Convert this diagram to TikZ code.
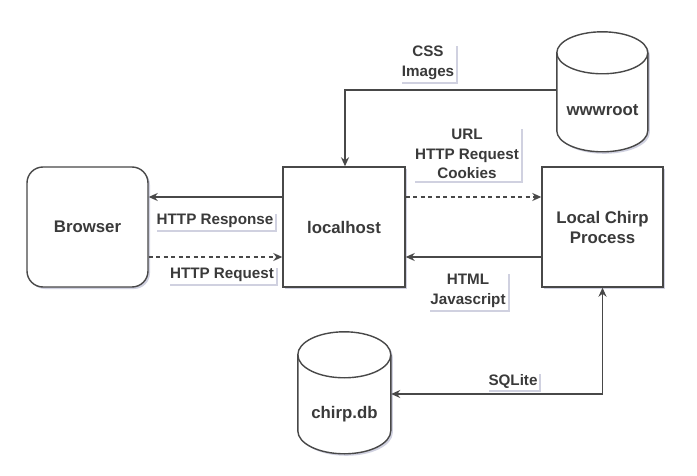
\documentclass[tikz,border=0pt]{standalone}
\usepackage{fontspec}
\setmainfont{Liberation Sans}
\usetikzlibrary{arrows.meta,shadows,calc}
\definecolor{linec}{RGB}{72,72,72}
\definecolor{textc}{RGB}{58,58,58}
\definecolor{shadc}{RGB}{170,172,200}
\begin{document}
\begin{tikzpicture}[x=1pt,y=-1pt,
  every node/.style={text=textc,font=\bfseries},
  box/.style={draw=linec,line width=1.4pt,fill=white,minimum width=121pt,minimum height=120pt,align=center,
    font=\fontsize{16.8}{20}\selectfont\bfseries,
    drop shadow={shadow xshift=2pt,shadow yshift=-2pt,fill=shadc,opacity=.55}},
  cylbox/.style={draw=none,inner sep=0pt},
  cylline/.style={draw=linec,line width=1.4pt,fill=white},
  cyltext/.style={font=\fontsize{16.8}{20}\selectfont\bfseries},
  lbl/.style={fill=white,align=center,inner sep=2pt,font=\fontsize{15.2}{19.5}\selectfont\bfseries,
    drop shadow={shadow xshift=2pt,shadow yshift=-2pt,fill=shadc,opacity=.55}},
  conn/.style={draw=linec,line width=1.4pt,-{Stealth[length=9pt,width=8pt]}},
  dconn/.style={conn,dash pattern=on 4pt off 3.5pt},
]
\useasboundingbox (0,0) rectangle (697,476);
\fill[white] (0,0) rectangle (697,476);

% main boxes
\node[box,rounded corners=16pt] (browser) at (87.5,227) {Browser};
\node[box,minimum width=122pt] (local) at (344,227) {localhost};
\node[box] (chirp) at (602.5,227) {Local Chirp\\Process};

% cylinders
\node[cylbox,minimum width=91pt,minimum height=120pt] (www) at (602.5,92) {};
\fill[shadc,opacity=.55] ([xshift=2pt,yshift=-23pt]www.north west) -- ++(0pt,-78pt)
  arc[start angle=180,end angle=360,x radius=45.5pt,y radius=21pt] -- ++(0pt,78pt)
  arc[start angle=0,end angle=180,x radius=45.5pt,y radius=21pt] -- cycle;
\path[cylline] ([yshift=-21pt]www.north west) -- ++(0pt,-78pt)
  arc[start angle=180,end angle=360,x radius=45.5pt,y radius=21pt] -- ++(0pt,78pt)
  arc[start angle=0,end angle=180,x radius=45.5pt,y radius=21pt] -- cycle;
\draw[linec,line width=1.4pt] ([yshift=-21pt]www.north west)
  arc[start angle=180,end angle=360,x radius=45.5pt,y radius=21pt];
\node[cyltext] (wwwtext) at ($(www.center)+(0pt,-18pt)$) {wwwroot};

\node[cylbox,minimum width=93pt,minimum height=122pt] (db) at (344.5,393) {};
\fill[shadc,opacity=.55] ([xshift=2pt,yshift=-25pt]db.north west) -- ++(0pt,-76pt)
  arc[start angle=180,end angle=360,x radius=46.5pt,y radius=23pt] -- ++(0pt,76pt)
  arc[start angle=0,end angle=180,x radius=46.5pt,y radius=23pt] -- cycle;
\path[cylline] ([yshift=-23pt]db.north west) -- ++(0pt,-76pt)
  arc[start angle=180,end angle=360,x radius=46.5pt,y radius=23pt] -- ++(0pt,76pt)
  arc[start angle=0,end angle=180,x radius=46.5pt,y radius=23pt] -- cycle;
\draw[linec,line width=1.4pt] ([yshift=-23pt]db.north west)
  arc[start angle=180,end angle=360,x radius=46.5pt,y radius=23pt];
\node[cyltext] (dbtext) at ($(db.center)+(0pt,-21pt)$) {chirp.db};

% connectors
\draw[conn] ([yshift=30pt]local.west) -- ([yshift=30pt]browser.east);
\draw[dconn] ([yshift=-30pt]browser.east) -- ([yshift=-30pt]local.west);
\draw[dconn] ([yshift=30pt]local.east) -- ([yshift=30pt]chirp.west);
\draw[conn] ([yshift=-30pt]chirp.west) -- ([yshift=-30pt]local.east);
\draw[conn] ([yshift=2pt]www.west) -| ([xshift=1pt]local.north);
\draw[conn,{Stealth[length=9pt,width=8pt]}-{Stealth[length=9pt,width=8pt]}] ([yshift=-1pt]db.east) -| (chirp.south);

% labels
\node[lbl] (l1) at (215,221) {HTTP Response};
\node[lbl] (l2) at (222,275) {HTTP Request};
\node[lbl] (l3) at (428,63) {CSS\\Images};
\node[lbl] (l4) at (467,154) {URL\\HTTP Request\\Cookies};
\node[lbl] (l5) at (468,291) {HTML\\Javascript};
\node[lbl] (l6) at (513,381) {SQLite};
\end{tikzpicture}
\end{document}
